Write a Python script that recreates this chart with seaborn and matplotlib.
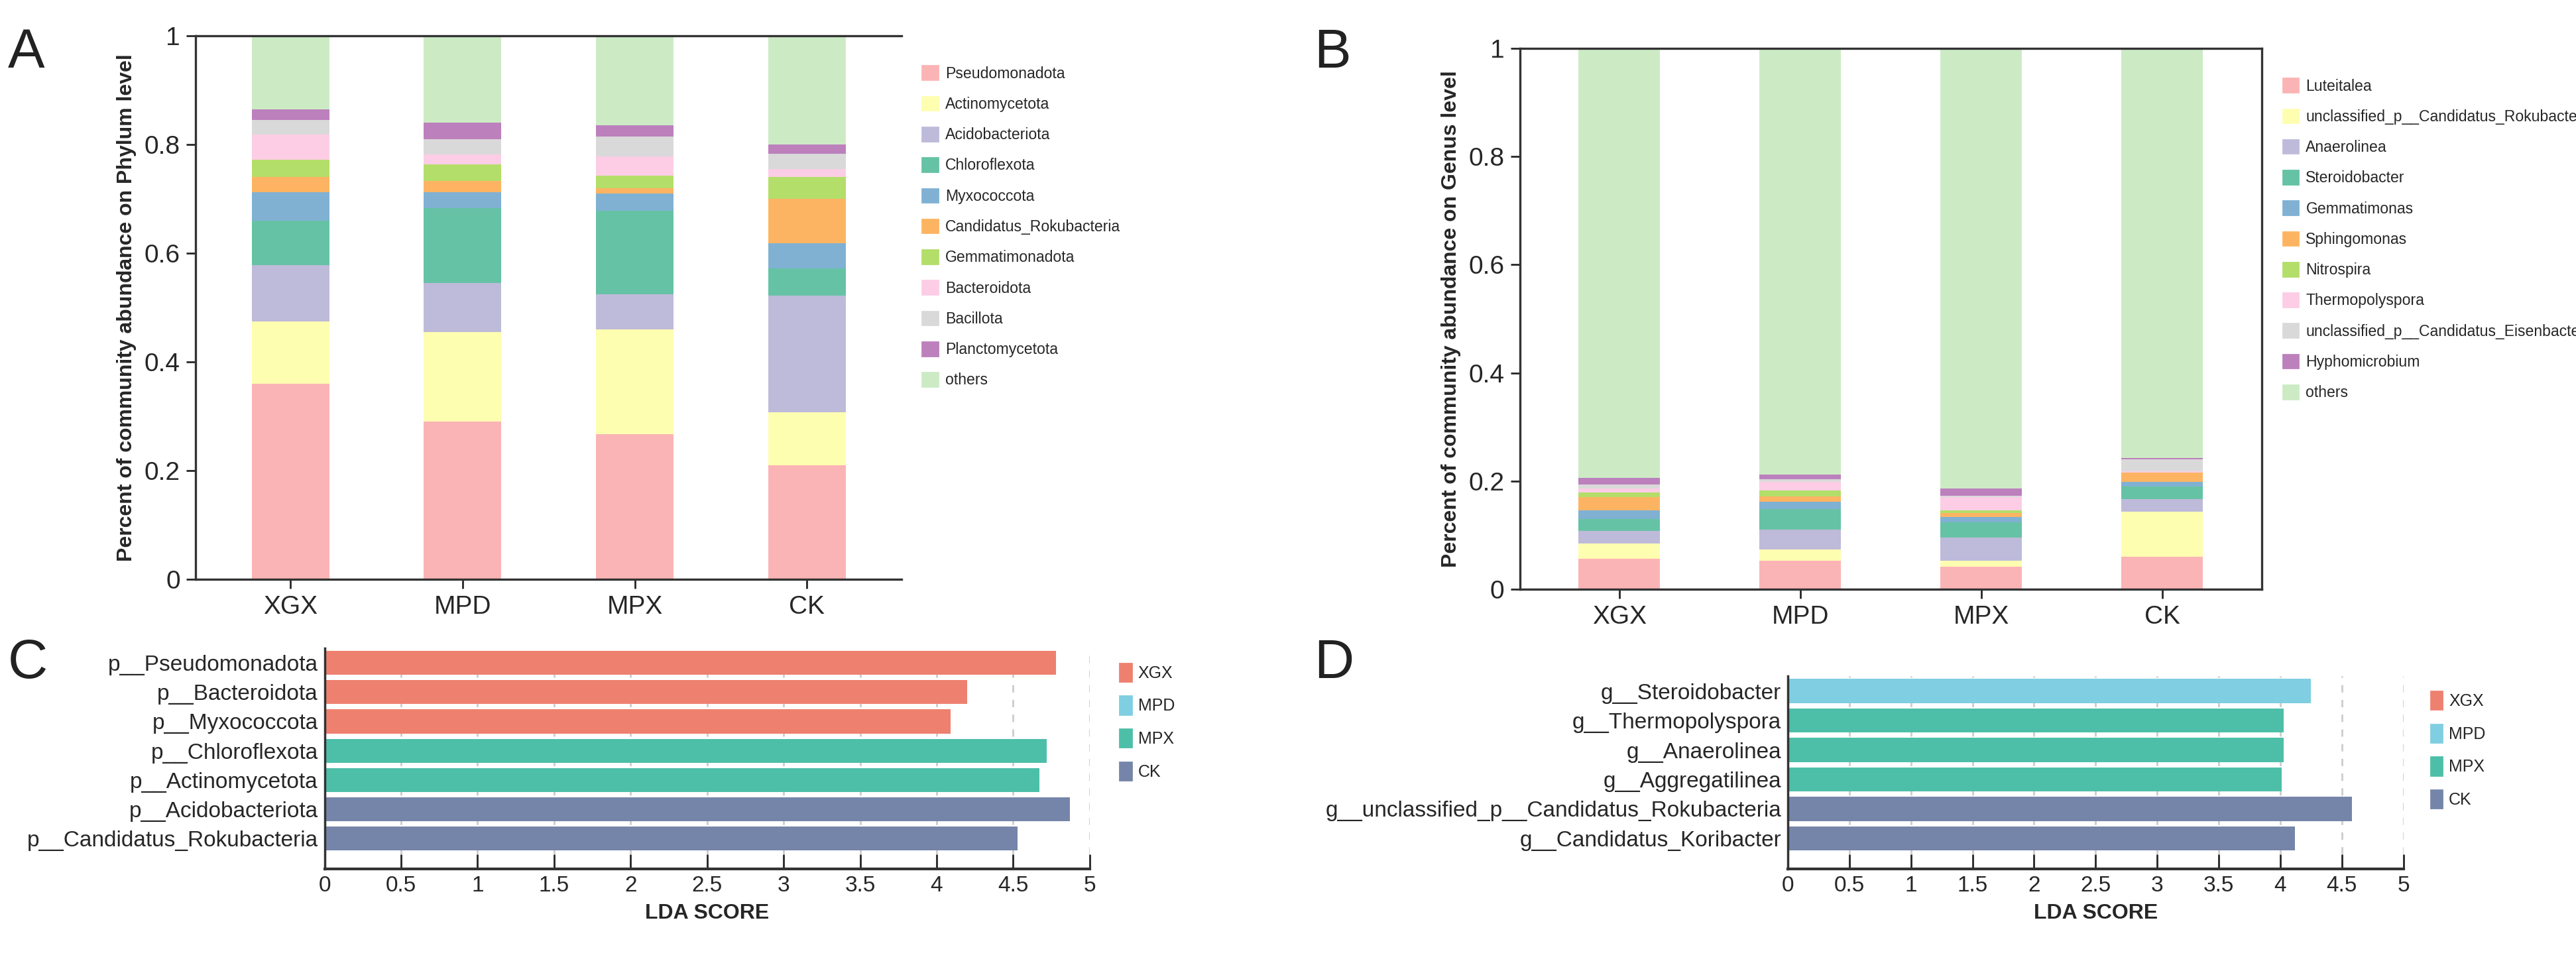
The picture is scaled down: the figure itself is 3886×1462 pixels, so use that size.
import numpy as np
import pandas as pd
import matplotlib
matplotlib.use("Agg")
import matplotlib.pyplot as plt
import matplotlib.patches as mpatches
import seaborn as sns

sns.set_theme(style="white")
plt.rcParams['font.family'] = ['Liberation Sans Narrow', 'Liberation Sans', 'DejaVu Sans']

groups = ["XGX", "MPD", "MPX", "CK"]
stack_colors = ["#FBB4B5", "#FEFEB1", "#BEBADA", "#66C2A5", "#80B1D3", "#FDB462",
                "#B3DE69", "#FCCDE5", "#D9D9D9", "#BC80BD", "#CCEBC5"]

phylum_taxa = ["Pseudomonadota", "Actinomycetota", "Acidobacteriota", "Chloroflexota",
               "Myxococcota", "Candidatus_Rokubacteria", "Gemmatimonadota", "Bacteroidota",
               "Bacillota", "Planctomycetota", "others"]
# cumulative tops per group (XGX, MPD, MPX, CK)
phylum_cum = {
    "XGX": [0.360, 0.475, 0.578, 0.660, 0.712, 0.740, 0.772, 0.818, 0.845, 0.865, 1.0],
    "MPD": [0.290, 0.455, 0.545, 0.683, 0.712, 0.733, 0.763, 0.782, 0.810, 0.840, 1.0],
    "MPX": [0.267, 0.460, 0.525, 0.678, 0.710, 0.720, 0.743, 0.778, 0.815, 0.835, 1.0],
    "CK":  [0.210, 0.307, 0.522, 0.572, 0.618, 0.700, 0.740, 0.755, 0.783, 0.800, 1.0],
}

genus_taxa = ["Luteitalea", "unclassified_p__Candidatus_Rokubacteria", "Anaerolinea",
              "Steroidobacter", "Gemmatimonas", "Sphingomonas", "Nitrospira",
              "Thermopolyspora", "unclassified_p__Candidatus_Eisenbacteria",
              "Hyphomicrobium", "others"]
genus_cum = {
    "XGX": [0.056, 0.084, 0.108, 0.130, 0.146, 0.170, 0.179, 0.186, 0.193, 0.206, 1.0],
    "MPD": [0.052, 0.074, 0.110, 0.148, 0.162, 0.172, 0.183, 0.199, 0.203, 0.212, 1.0],
    "MPX": [0.042, 0.053, 0.096, 0.124, 0.134, 0.141, 0.146, 0.170, 0.173, 0.186, 1.0],
    "CK":  [0.060, 0.143, 0.166, 0.190, 0.199, 0.216, 0.216, 0.218, 0.240, 0.243, 1.0],
}

lda_colors = {"XGX": "#EE8070", "MPD": "#80CEE1", "MPX": "#4DBFA8", "CK": "#7585AA"}
c_features = ["p__Pseudomonadota", "p__Bacteroidota", "p__Myxococcota", "p__Chloroflexota",
              "p__Actinomycetota", "p__Acidobacteriota", "p__Candidatus_Rokubacteria"]
c_scores = [4.78, 4.20, 4.09, 4.72, 4.67, 4.87, 4.53]
c_groups = ["XGX", "XGX", "XGX", "MPX", "MPX", "CK", "CK"]
d_features = ["g__Steroidobacter", "g__Thermopolyspora", "g__Anaerolinea", "g__Aggregatilinea",
              "g__unclassified_p__Candidatus_Rokubacteria", "g__Candidatus_Koribacter"]
d_scores = [4.25, 4.03, 4.03, 4.01, 4.58, 4.12]
d_groups = ["MPD", "MPX", "MPX", "MPX", "CK", "CK"]

fig = plt.figure(figsize=(19.43, 7.31), dpi=200)

def stacked(ax, taxa, cum, ylabel):
    for i in range(len(taxa) - 1, -1, -1):
        df = pd.DataFrame({"g": groups, "v": [cum[g][i] for g in groups]})
        sns.barplot(data=df, x="g", y="v", order=groups, color=stack_colors[i],
                    width=0.45, ax=ax, saturation=1, linewidth=0)
    ax.set_ylim(0, 1)
    ax.set_xlim(-0.55, 3.55)
    ax.set_yticks([0, 0.2, 0.4, 0.6, 0.8, 1])
    ax.set_yticklabels(["0", "0.2", "0.4", "0.6", "0.8", "1"])
    ax.tick_params(axis='both', labelsize=14, length=5, width=1, direction='out', left=True, bottom=True)
    ax.set_xlabel("")
    ax.set_ylabel(ylabel, fontsize=11.5, fontweight='bold', family=['Liberation Sans', 'DejaVu Sans'])
    for s in ax.spines.values():
        s.set_color("#333333"); s.set_linewidth(1.2)
    handles = [mpatches.Patch(color=c, label=t) for c, t in zip(stack_colors, taxa)]
    ax.legend(handles=handles, loc="upper left", bbox_to_anchor=(1.01, 0.97), frameon=False,
              fontsize=8.3, handlelength=1.0, handleheight=1.0, labelspacing=1.0, handletextpad=0.5)

axA = fig.add_axes([0.076, 0.402, 0.274, 0.561])
stacked(axA, phylum_taxa, phylum_cum, "Percent of community abundance on Phylum level")
axA.spines['right'].set_visible(False)
axB = fig.add_axes([0.59, 0.392, 0.288, 0.558])
stacked(axB, genus_taxa, genus_cum, "Percent of community abundance on Genus level")

def lda(ax, feats, scores, grps):
    df = pd.DataFrame({"f": feats, "s": scores, "g": grps})
    sns.barplot(data=df, x="s", y="f", hue="g", palette=lda_colors, hue_order=list(lda_colors),
                dodge=False, width=0.82, saturation=1, ax=ax, legend=False, linewidth=0)
    ax.set_xlim(0, 5)
    ax.set_ylim(len(feats) - 0.5 + 0.55, -0.5)
    ax.set_xticks(np.arange(0, 5.01, 0.5))
    ax.set_xticklabels(["0", "0.5", "1", "1.5", "2", "2.5", "3", "3.5", "4", "4.5", "5"])
    for xv in np.arange(0.5, 5.01, 0.5):
        ax.axvline(xv, color="#cccccc", ls=(0, (4, 4)), lw=1, zorder=0)
    ax.tick_params(axis='x', labelsize=12, length=8, width=1, direction='in', bottom=True)
    ax.tick_params(axis='y', labelsize=12, length=0)
    ax.set_ylabel("")
    ax.set_xlabel("LDA SCORE", fontsize=11.5, fontweight='bold', family=['Liberation Sans', 'DejaVu Sans'])
    for s in ['top', 'right']:
        ax.spines[s].set_visible(False)
    ax.spines['left'].set_color('#333333')
    ax.spines['bottom'].set_color('#333333'); ax.spines['bottom'].set_linewidth(1.5)
    handles = [mpatches.Patch(color=c, label=t) for t, c in lda_colors.items()]
    ax.legend(handles=handles, loc="upper left", bbox_to_anchor=(1.02, 1.0), frameon=False,
              fontsize=9, handlelength=0.7, handleheight=1.3, labelspacing=0.9, handletextpad=0.4)

axC = fig.add_axes([0.126, 0.103, 0.297, 0.228])
lda(axC, c_features, c_scores, c_groups)
axD = fig.add_axes([0.694, 0.103, 0.239, 0.199])
lda(axD, d_features, d_scores, d_groups)

for lab, x, y in [("A", 0.003, 0.93), ("B", 0.51, 0.93), ("C", 0.003, 0.30), ("D", 0.51, 0.30)]:
    fig.text(x, y, lab, fontsize=30, family=['Liberation Sans', 'DejaVu Sans'], color="#222222")

fig.savefig("out.png", dpi=200)
